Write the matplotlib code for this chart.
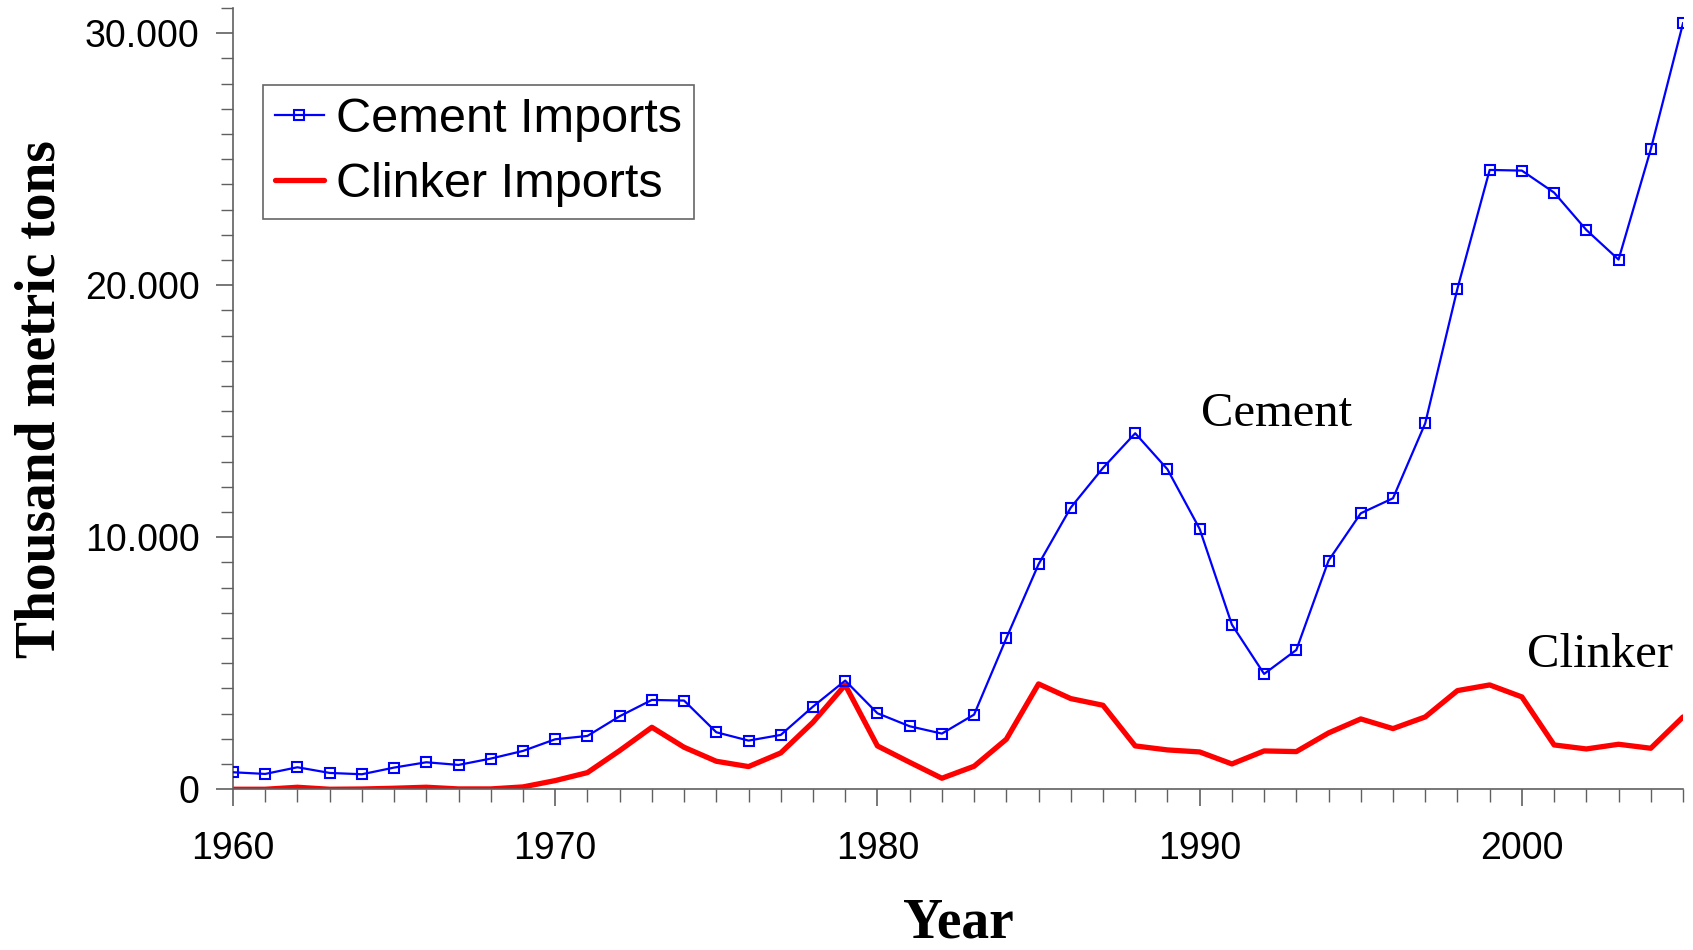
import matplotlib
matplotlib.use("Agg")
import matplotlib.pyplot as plt
import numpy as np
from matplotlib.ticker import MultipleLocator, FuncFormatter

years = np.arange(1960, 2006)

cement = [675, 608, 873, 648, 595, 860, 1071, 966, 1217, 1521,
          1984, 2116, 2897, 3545, 3519, 2262, 1931, 2156, 3280, 4312,
          3016, 2500, 2209, 2963, 5992, 8929, 11177, 12751, 14127, 12698,
          10331, 6534, 4577, 5529, 9074, 10952, 11548, 14524, 19868, 24577,
          24550, 23677, 22196, 21019, 25397, 30397]

clinker = [0, 0, 79, 0, 10, 40, 80, 13, 13, 93,
           344, 661, 1534, 2460, 1667, 1111, 900, 1442, 2659, 4140,
           1720, 1071, 437, 913, 1984, 4180, 3598, 3333, 1720, 1561,
           1481, 1005, 1521, 1495, 2235, 2791, 2407, 2870, 3915, 4140,
           3664, 1759, 1600, 1786, 1627, 2870]

sans = "Liberation Sans"
serif = "Liberation Serif"
axis_gray = "#606060"

fig = plt.figure(figsize=(16.93, 9.5), dpi=100)
ax = fig.add_axes([0.1376, 0.1692, 0.8565, 0.8223])

ax.plot(years, clinker, color="red", lw=3.8, solid_capstyle="round",
        label="Clinker Imports", zorder=2)
ax.plot(years, cement, color="blue", lw=1.6, marker="s", ms=7,
        mfc="none", mew=1.5, label="Cement Imports", zorder=3)

ax.set_xlim(1960, 2005)
ax.set_ylim(0, 31000)

ax.xaxis.set_major_locator(MultipleLocator(10))
ax.xaxis.set_minor_locator(MultipleLocator(1))
ax.yaxis.set_major_locator(MultipleLocator(10000))
ax.yaxis.set_minor_locator(MultipleLocator(1000))
ax.yaxis.set_major_formatter(FuncFormatter(lambda v, p: f"{int(v):,}".replace(",", ".")))

for s in ["top", "right"]:
    ax.spines[s].set_visible(False)
for s in ["left", "bottom"]:
    ax.spines[s].set_color(axis_gray)
    ax.spines[s].set_linewidth(1.2)

ax.tick_params(axis="both", which="major", length=12, width=1.2, color=axis_gray,
               labelsize=27, direction="out")
ax.tick_params(axis="both", which="minor", length=9, width=1.0, color=axis_gray,
               direction="out")
ax.tick_params(axis="x", which="major", pad=18)
ax.tick_params(axis="y", which="major", pad=12)
for lab in ax.get_xticklabels() + ax.get_yticklabels():
    lab.set_fontfamily(sans)

ax.set_xlabel("Year", fontfamily=serif, fontweight="bold", fontsize=40, labelpad=22)
ax.set_ylabel("Thousand metric tons", fontfamily=serif, fontweight="bold",
              fontsize=40, labelpad=13)

ax.text(1990.05, 14400, "Cement", fontfamily=serif, fontsize=35,
        ha="left", va="baseline")
ax.text(2000.15, 4850, "Clinker", fontfamily=serif, fontsize=35,
        ha="left", va="baseline")

handles, labels = ax.get_legend_handles_labels()
leg = ax.legend(handles[::-1], labels[::-1], loc="upper left",
                bbox_to_anchor=(0.0207, 0.9016), borderaxespad=0,
                prop={"family": sans, "size": 35}, frameon=True, fancybox=False,
                handlelength=1.0, handletextpad=0.25, labelspacing=0.4,
                borderpad=0.25)
leg.get_frame().set_edgecolor("#404040")
leg.get_frame().set_linewidth(1.2)

fig.savefig("out.png", dpi=100)
